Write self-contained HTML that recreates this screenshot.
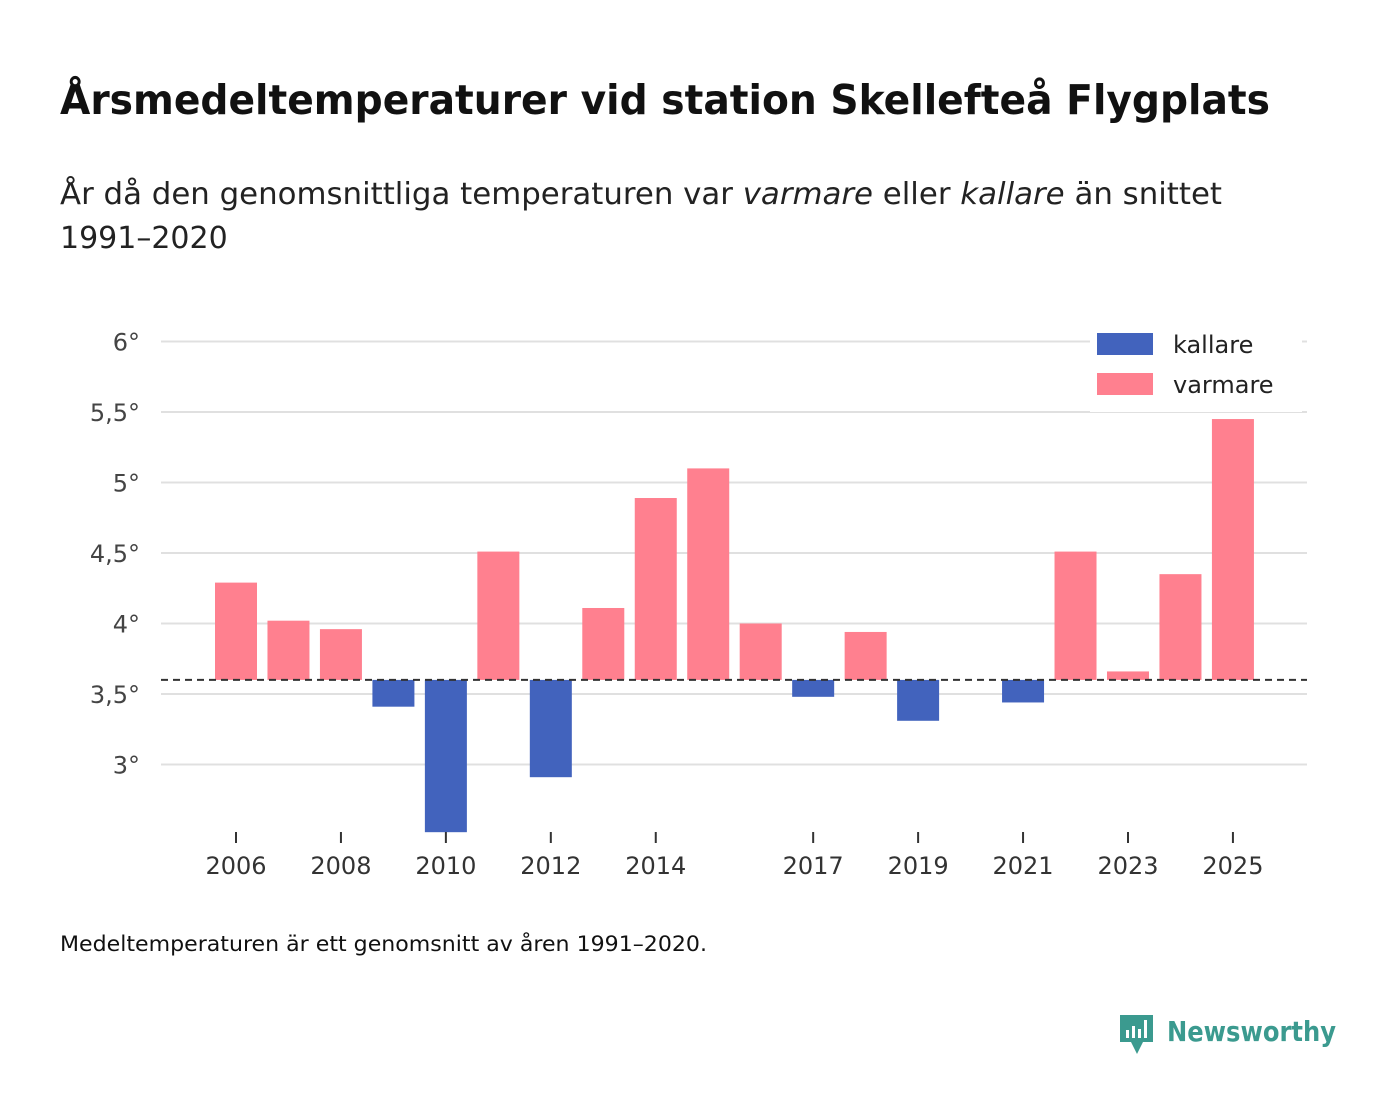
<!DOCTYPE html>
<html><head><meta charset="utf-8"><style>
html,body{margin:0;padding:0;background:#fff;}
svg{display:block;font-family:"DejaVu Sans","Liberation Sans",sans-serif;}
</style></head><body>
<svg id="chart" width="1400" height="1116" viewBox="0 0 1400 1116">
<text x="60" y="114" font-size="41" font-weight="bold" fill="#111" textLength="1210" lengthAdjust="spacingAndGlyphs">Årsmedeltemperaturer vid station Skellefteå Flygplats</text>
<text x="60" y="204" font-size="30" fill="#222" textLength="1162" lengthAdjust="spacingAndGlyphs">År då den genomsnittliga temperaturen var <tspan font-style="italic">varmare</tspan> eller <tspan font-style="italic">kallare</tspan> än snittet</text>
<text x="60" y="248" font-size="30" fill="#222">1991–2020</text>
<g id="grid"></g>
<g id="bars"></g>
<g id="xaxis"></g>
<line id="refline" x1="161" x2="1307" stroke="#333" stroke-width="2" stroke-dasharray="7,5"/>
<g>
<rect x="1090" y="324" width="212" height="88" fill="#fff"/>
<rect x="1097" y="333" width="56" height="22" fill="#4263bd"/>
<text x="1173" y="353" font-size="24" fill="#222">kallare</text>
<rect x="1097" y="373" width="56" height="22" fill="#ff808f"/>
<text x="1173" y="393" font-size="24" fill="#222">varmare</text>
</g>
<text x="60" y="951" font-size="21" fill="#111" textLength="647" lengthAdjust="spacingAndGlyphs">Medeltemperaturen är ett genomsnitt av åren 1991–2020.</text>
<g>
<path d="M1120 1015 h33 v27 h-10 l-6 12 l-6 -12 h-11 z" fill="#3b9a8f"/>
<rect x="1126" y="1030" width="3" height="8" fill="#fff"/><rect x="1132" y="1026" width="3" height="12" fill="#fff"/><rect x="1138" y="1029" width="3" height="9" fill="#fff"/><rect x="1144" y="1020" width="3" height="18" fill="#fff"/>
<text x="1167" y="1041" font-size="28" font-weight="bold" fill="#3b9a8f" textLength="169" lengthAdjust="spacingAndGlyphs">Newsworthy</text>
</g>
</svg>
<script>
const years=[2006,2007,2008,2009,2010,2011,2012,2013,2014,2015,2016,2017,2018,2019,2020,2021,2022,2023,2024,2025];
const temps=[4.29,4.02,3.96,3.41,2.52,4.51,2.91,4.11,4.89,5.10,4.00,3.48,3.94,3.31,null,3.44,4.51,3.66,4.35,5.45];
const baseline=3.6;
const yTicks=[3,3.5,4,4.5,5,5.5,6];
const yTickLabels=["3°","3,5°","4°","4,5°","5°","5,5°","6°"];
const xTicks=[2006,2008,2010,2012,2014,2017,2019,2021,2023,2025];
const NS="http://www.w3.org/2000/svg";
function y(v){return 694-(v-3.5)*141;}
function x(yr){return 236+(yr-2006)*52.47;}
function mk(t,a,p){const e=document.createElementNS(NS,t);for(const k in a)e.setAttribute(k,a[k]);p.appendChild(e);return e;}
const grid=document.getElementById('grid');
yTicks.forEach((v,i)=>{
  const l=mk('line',{x1:161,x2:1307,y1:y(v),y2:y(v),stroke:'#e0e0e0','stroke-width':2},grid);
  
  
  const t=mk('text',{x:140,y:y(v)+9,'font-size':24,fill:'#444','text-anchor':'end'},grid);
  t.textContent=yTickLabels[i];
  
  
});
const bars=document.getElementById('bars');
years.forEach((yr,i)=>{
  const v=temps[i]; if(v==null) return;
  const top=Math.min(y(v),y(baseline)), h=Math.abs(y(v)-y(baseline));
  const r=mk('rect',{x:x(yr)-21,y:top,width:42,height:h,fill:v>=baseline?'#ff808f':'#4263bd'},bars);
  
  
});
const xa=document.getElementById('xaxis');
xTicks.forEach(yr=>{
  const l=mk('line',{x1:x(yr),x2:x(yr),y1:832,y2:843,stroke:'#333','stroke-width':2},xa);
  
  
  const t=mk('text',{x:x(yr),y:874,'font-size':24,fill:'#333','text-anchor':'middle'},xa);
  t.textContent=yr;
  
  
});
const rl=document.getElementById('refline');
rl.setAttribute('y1',y(baseline));rl.setAttribute('y2',y(baseline));
</script>
</body></html>
